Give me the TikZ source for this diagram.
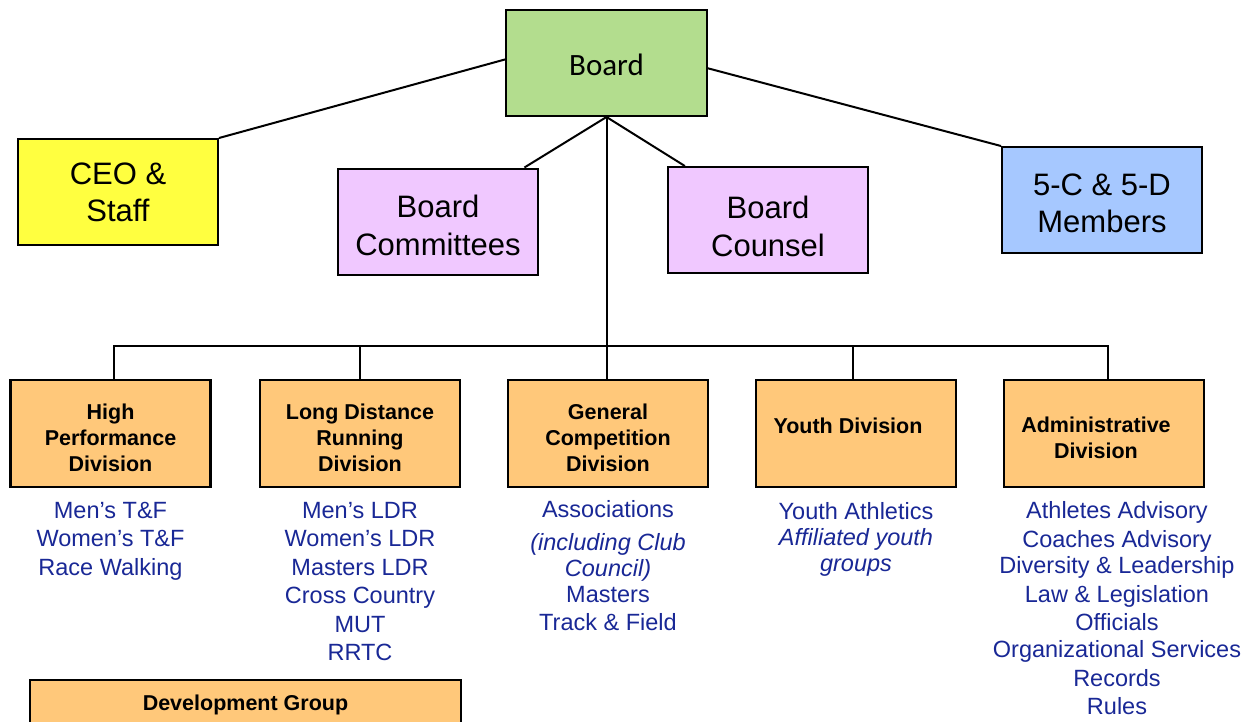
\documentclass[tikz,border=0pt]{standalone}
\usepackage{fontspec}
\setmainfont{Liberation Sans}
\newfontfamily\calibrifont{Carlito}
\usetikzlibrary{calc}
\definecolor{boardgreen}{RGB}{179,221,142}
\definecolor{ceoyellow}{RGB}{255,255,64}
\definecolor{lilac}{RGB}{240,200,255}
\definecolor{lightblue}{RGB}{166,200,255}
\definecolor{divorange}{RGB}{255,200,122}
\definecolor{listblue}{RGB}{25,40,150}
\begin{document}
\begin{tikzpicture}[x=1pt,y=-1pt,
  topbox/.style={draw=black, line width=2pt, minimum width=200pt, minimum height=106pt, inner sep=0pt},
  toptext/.style={inner sep=0pt, align=center, font=\fontsize{31}{37}\selectfont},
  divbox/.style={draw=black, line width=2.5pt, fill=divorange, minimum width=200pt,
    minimum height=107pt, inner sep=0pt},
  divtext/.style={inner sep=0pt, align=center, font=\bfseries\fontsize{21.5}{26}\selectfont},
  listtext/.style={anchor=north, inner sep=0pt, align=center, text=listblue,
    font=\fontsize{23.5}{28.5}\selectfont},
  conn/.style={draw=black, line width=2pt}]
\clip (0,0) rectangle (1248,721);
\fill[white] (0,0) rectangle (1248,721);

% top level boxes
\node[topbox, fill=boardgreen, minimum width=201pt] (Board) at (606.5,63) {};
\node[topbox, fill=ceoyellow] (CEO) at (118,192) {};
\node[topbox, fill=lilac] (BC) at (438,221.5) {};
\node[topbox, fill=lilac] (Counsel) at (768,220) {};
\node[topbox, fill=lightblue] (Members) at (1102,200) {};

\node[toptext, font=\calibrifont\fontsize{31}{37}\selectfont] (BoardT) at ([yshift=-2pt]Board.center) {Board};
\node[toptext] (CEOT) at (CEO.center) {CEO \&\\Staff};
\node[toptext, font=\fontsize{31}{38}\selectfont] (BCT) at ([yshift=-4pt]BC.center) {Board\\Committees};
\node[toptext, font=\fontsize{31}{38}\selectfont] (CounselT) at ([yshift=-6pt]Counsel.center) {Board\\Counsel};
\node[toptext] (MembersT) at ([yshift=-3pt]Members.center) {5-C \& 5-D\\Members};

% divisions
\node[divbox] (HP) at (110.5,433.5) {};
\node[divbox] (LDR) at (360,433.5) {};
\node[divbox] (GC) at (608,433.5) {};
\node[divbox] (Youth) at (856,433.5) {};
\node[divbox] (Admin) at (1104,433.5) {};
\node[divbox, minimum width=431pt, minimum height=46pt] (Dev) at (245.5,703) {};

\node[divtext] (HPT) at ([yshift=-4pt]HP.center) {High\\Performance\\Division};
\node[divtext] (LDRT) at ([yshift=-4pt]LDR.center) {Long Distance\\Running\\Division};
\node[divtext] (GCT) at ([yshift=-4pt]GC.center) {General\\Competition\\Division};
\node[divtext] (YouthT) at ([xshift=-8pt,yshift=8pt]Youth.center) {Youth Division};
\node[divtext] (AdminT) at ([xshift=-8pt,yshift=-4pt]Admin.center) {Administrative\\Division};
\node[divtext] (DevT) at ([yshift=-2pt]Dev.center) {Development Group};

% connectors
\draw[conn] (Board.178) -- (CEO.north east);
\draw[conn] (Board.-3) -- (Members.north west);
\draw[conn] (Board.south) -- (BC.32);
\draw[conn] (Board.south) -- (Counsel.147);
\draw[conn] (Board.south) -- (Board.south |- GC.north);
\coordinate (busL) at (114,346);
\coordinate (busR) at (1108,346);
\coordinate (busY) at (853,346);
\draw[conn] (busL |- HP.north) -- (busL) -- (busR) -- (busR |- Admin.north);
\draw[conn] (LDR.north) -- (LDR.north |- busL);
\draw[conn] (busY) -- (busY |- Youth.north);

% lists
\node[listtext] (HPlist) at (110.5,502) {Men’s T\&F\\Women’s T\&F\\Race Walking};
\node[listtext] (LDRlist) at (360,502) {Men’s LDR\\Women’s LDR\\Masters LDR\\Cross Country\\MUT\\RRTC};
\node[listtext, font=\fontsize{23.5}{28}\selectfont] (GClist) at (608,500) {Associations\\[5pt]{\itshape (including Club}\\[-2pt]{\itshape Council)}\\[-2pt]Masters\\Track \& Field};
\node[listtext, font=\fontsize{23.5}{26}\selectfont] (Youthlist) at (856,502) {Youth Athletics\\{\itshape Affiliated youth}\\{\itshape groups}};
\node[listtext, font=\fontsize{23.5}{28}\selectfont] (Adminlist) at (1117,501) {Athletes Advisory\\[1pt]Coaches Advisory\\[-2pt]Diversity \& Leadership\\[1pt]Law \& Legislation\\Officials\\[-1pt]Organizational Services\\[1pt]Records\\Rules};
\end{tikzpicture}
\end{document}
